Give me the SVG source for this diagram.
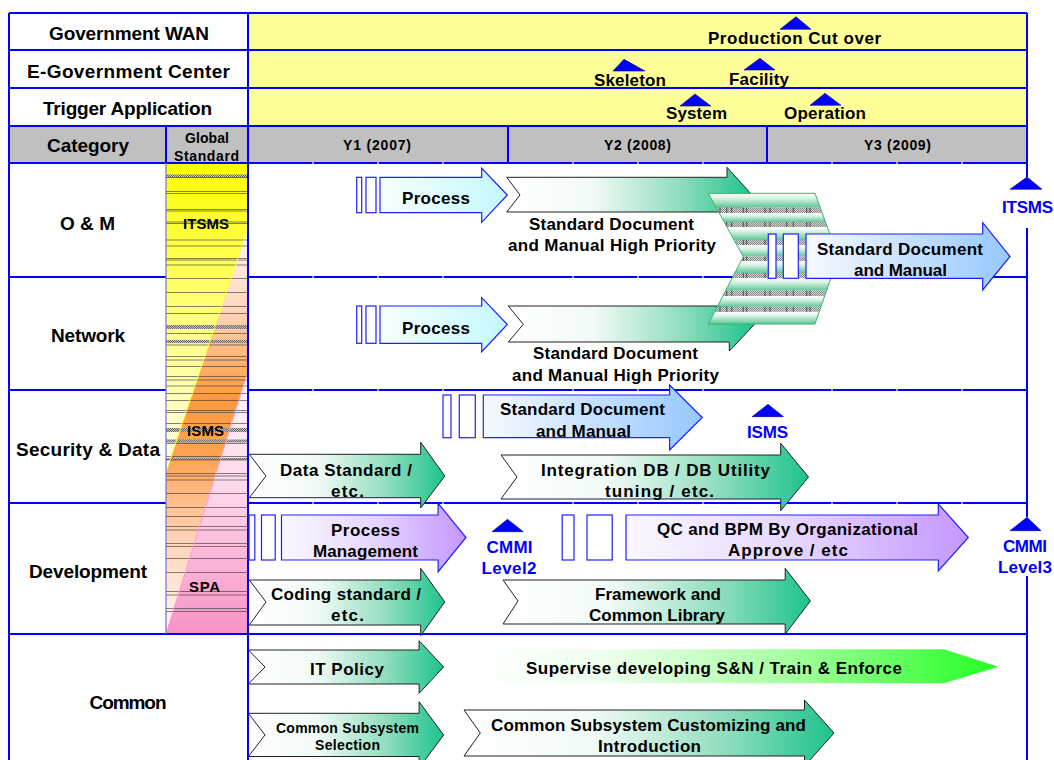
<svg xmlns="http://www.w3.org/2000/svg" width="1054" height="760" viewBox="0 0 1054 760">
<style>
.t{font-family:"Liberation Sans",Arial,Helvetica,sans-serif;font-weight:bold;fill:#000;text-anchor:middle}
.s19{font-size:19px}
.s17{font-size:17px}
.s15{font-size:15px}
.s14{font-size:14px}
.blue{fill:#0000FF}
.grid{stroke:#0000FF;stroke-width:2;fill:none}
.tick{stroke:#FFFFFF;stroke-width:1.2;fill:none}
.gr{fill:url(#gGreen);stroke:#222;stroke-width:1}
.cy{fill:url(#gCyan);stroke:#2020FF;stroke-width:1.2}
.bl{fill:url(#gBlue);stroke:#2020FF;stroke-width:1.2}
.pu{fill:url(#gPurple);stroke:#2020FF;stroke-width:1.2}
.box{fill:#FFFFFF;stroke:#2020FF;stroke-width:1.2}
.tri{fill:#0000FF;stroke:#000070;stroke-width:0.6}
.lite{fill:url(#gStripe)}
.gray{fill:url(#hatch)}
.graylite{fill:url(#hatchLite)}
</style>
<defs>
  <linearGradient id="gGreen" x1="0" y1="0" x2="1" y2="0">
    <stop offset="0" stop-color="#FFFFFF"/>
    <stop offset="0.35" stop-color="#F1FAF6"/>
    <stop offset="0.7" stop-color="#92DEBF"/>
    <stop offset="1" stop-color="#1DC38C"/>
  </linearGradient>
  <linearGradient id="gCyan" x1="0" y1="0" x2="1" y2="0">
    <stop offset="0" stop-color="#F6FFFF"/>
    <stop offset="1" stop-color="#C4F8FF"/>
  </linearGradient>
  <linearGradient id="gBlue" x1="0" y1="0" x2="1" y2="0">
    <stop offset="0" stop-color="#F6FAFF"/>
    <stop offset="1" stop-color="#96C8FF"/>
  </linearGradient>
  <linearGradient id="gPurple" x1="0" y1="0" x2="1" y2="0">
    <stop offset="0" stop-color="#FBF8FF"/>
    <stop offset="0.5" stop-color="#E6D6FF"/>
    <stop offset="1" stop-color="#C497FF"/>
  </linearGradient>
  <linearGradient id="gLime" x1="0" y1="0" x2="1" y2="0">
    <stop offset="0" stop-color="#FFFFFF"/>
    <stop offset="0.25" stop-color="#EEFFEE"/>
    <stop offset="0.6" stop-color="#A6FFA0"/>
    <stop offset="1" stop-color="#22FF22"/>
  </linearGradient>
  <linearGradient id="gStripe" x1="0" y1="0" x2="0" y2="1">
    <stop offset="0" stop-color="#FFFFFF"/>
    <stop offset="0.35" stop-color="#D8F2E4"/>
    <stop offset="1" stop-color="#5CC795"/>
  </linearGradient>
  <linearGradient id="gColYellow" gradientUnits="userSpaceOnUse" x1="0" y1="163" x2="0" y2="472">
    <stop offset="0" stop-color="#FFFF00"/>
    <stop offset="0.4" stop-color="#FFFF66"/>
    <stop offset="1" stop-color="#FFFFEC"/>
  </linearGradient>
  <linearGradient id="gColOrange" gradientUnits="userSpaceOnUse" x1="0" y1="228" x2="0" y2="634">
    <stop offset="0" stop-color="#FFF8F6"/>
    <stop offset="0.2" stop-color="#FFD6BE"/>
    <stop offset="0.42" stop-color="#FF9A3C"/>
    <stop offset="0.56" stop-color="#FFA352"/>
    <stop offset="0.76" stop-color="#FFD2B4"/>
    <stop offset="1" stop-color="#FFF8F4"/>
  </linearGradient>
  <linearGradient id="gColPink" gradientUnits="userSpaceOnUse" x1="0" y1="371" x2="0" y2="634">
    <stop offset="0" stop-color="#FFF8FC"/>
    <stop offset="0.5" stop-color="#FFD2E8"/>
    <stop offset="1" stop-color="#F792C6"/>
  </linearGradient>
  <pattern id="hatch" width="2" height="2" patternUnits="userSpaceOnUse">
    <rect width="2" height="2" fill="#C4C4C4"/>
    <rect width="1" height="1" fill="#666666"/>
    <rect x="1" y="1" width="1" height="1" fill="#666666"/>
  </pattern>
  <pattern id="hatchLite" width="2" height="2" patternUnits="userSpaceOnUse">
    <rect width="2" height="2" fill="#D4D4D4"/>
    <rect width="1" height="1" fill="#888888"/>
    <rect x="1" y="1" width="1" height="1" fill="#888888"/>
  </pattern>
  <clipPath id="clipCol"><rect x="166" y="163" width="82" height="471"/></clipPath>
  <clipPath id="clipChevron"><polygon points="708.3,193.3 815,193.3 838.3,256.7 815,324 708.3,324 743.3,256.7"/></clipPath>
  <clipPath id="clipGrayBands">
    <rect x="700" y="207.5" width="150" height="5.5"/>
    <rect x="700" y="222" width="150" height="5"/>
    <rect x="700" y="240" width="150" height="5"/>
    <rect x="700" y="256.5" width="150" height="4.5"/>
    <rect x="700" y="273" width="150" height="5"/>
    <rect x="700" y="290.5" width="150" height="5.5"/>
    <rect x="700" y="306.7" width="150" height="5"/>
  </clipPath>
</defs>

<!-- backgrounds -->
<g id="bands">
  <rect x="0" y="0" width="1054" height="760" fill="#FFFFFF"/>
  <rect x="248" y="13" width="779" height="113" fill="#FFFF99"/>
  <rect x="9" y="126" width="1018" height="37" fill="#C0C0C0"/>
</g>

<!-- global standard column -->
<g id="global-standard" clip-path="url(#clipCol)">
  <polygon points="166,163 248,163 248,228 166,472" fill="url(#gColYellow)"/>
  <polygon points="248,228 248,371 166,634 166,472" fill="url(#gColOrange)"/>
  <polygon points="248,371 248,634 166,634" fill="url(#gColPink)"/>
  <g class="gray">
    <rect x="166" y="174.5" width="82" height="3"/>
    <rect x="166" y="325" width="82" height="4"/>
    <rect x="166" y="340" width="82" height="3"/>
    <rect x="166" y="428" width="82" height="4"/>
    <rect x="166" y="439.5" width="82" height="3"/>
    <rect x="166" y="458" width="82" height="2"/>
  </g>
  <path fill="none" stroke="#333" stroke-width="0.8" stroke-opacity="0.75" d="M166,177.5H248M166,191.5H248M166,193.5H248M166,209.5H248M166,211H248M166,222H248M166,223.5H248M166,240H248M166,246H248M166,258.5H248M166,260H248M166,265H248M166,278.5H248M166,292.5H248M166,306.5H248M166,313.5H248M166,333.5H248M166,345H248M166,356.5H248M166,360H248M166,366.5H248M166,376.5H248M166,380H248M166,386H248M166,393.5H248M166,400.5H248M166,410.5H248M166,412.5H248M166,423.5H248M166,443.5H248M166,456.5H248M166,460H248M166,473.5H248M166,476H248M166,480H248M166,493.5H248M166,507.5H248M166,516.5H248M166,526.5H248M166,530H248M166,543.5H248M166,546.5H248M166,558.5H248M166,572.5H248M166,591.5H248M166,595H248M166,608.5H248M166,611.5H248"/>
  <line x1="248" y1="228" x2="166" y2="472" stroke="#FFFF33" stroke-width="1"/>
  <line x1="248" y1="371" x2="166" y2="634" stroke="#FF99CC" stroke-width="1"/>
  <text class="t s15" x="206" y="229" textLength="46" lengthAdjust="spacing">ITSMS</text>
  <text class="t s15" x="205.5" y="436" textLength="37" lengthAdjust="spacing">ISMS</text>
  <text class="t s15" x="204.5" y="592" textLength="31" lengthAdjust="spacing">SPA</text>
</g>

<!-- table grid -->
<g id="grid">
  <path class="grid" d="M9,13H1027M9,50H1027M9,88H1027M9,126H1027M9,163H1027M9,277H166M248,277H1027M9,390H166M248,390H1027M9,503H166M248,503H1027M9,634H1027"/>
  <path class="grid" d="M9,13V760M248,13V760M166,126V163M508,126V163M767,126V163M1027,13V177M1027,228V517M1027,576V760"/>
  <line x1="166" y1="163" x2="166" y2="634" stroke="#7070E0" stroke-width="1.2"/>
  <path class="tick" d="M313,162V164M378,162V164M443,162V164M573,162V164M638,162V164M703,162V164M832,162V164M897,162V164M962,162V164M313,276V278M378,276V278M443,276V278M573,276V278M638,276V278M703,276V278M832,276V278M897,276V278M962,276V278M313,389V391M378,389V391M443,389V391M573,389V391M638,389V391M703,389V391M832,389V391M897,389V391M962,389V391M313,502V504M378,502V504M443,502V504M573,502V504M638,502V504M703,502V504M832,502V504M897,502V504M962,502V504"/>
</g>

<!-- header and row labels -->
<g id="labels">
  <text class="t s19" x="129" y="40" textLength="160" lengthAdjust="spacing">Government WAN</text>
  <text class="t s19" x="128.5" y="77.5" textLength="203" lengthAdjust="spacing">E-Government Center</text>
  <text class="t s19" x="127.5" y="115" textLength="169" lengthAdjust="spacing">Trigger Application</text>
  <text class="t s19" x="88" y="152" textLength="82" lengthAdjust="spacing">Category</text>
  <text class="t s14" x="207" y="143" textLength="44" lengthAdjust="spacing">Global</text>
  <text class="t s14" x="206.5" y="161" textLength="65" lengthAdjust="spacing">Standard</text>
  <text class="t s14" x="377" y="150" textLength="68" lengthAdjust="spacing">Y1 (2007)</text>
  <text class="t s14" x="637.5" y="150" textLength="67" lengthAdjust="spacing">Y2 (2008)</text>
  <text class="t s14" x="897.5" y="150" textLength="67" lengthAdjust="spacing">Y3 (2009)</text>
  <text class="t s19" x="87.5" y="230" textLength="55" lengthAdjust="spacing">O &amp; M</text>
  <text class="t s19" x="88" y="342" textLength="74" lengthAdjust="spacing">Network</text>
  <text class="t s19" x="88" y="455.5" textLength="144" lengthAdjust="spacing">Security &amp; Data</text>
  <text class="t s19" x="88" y="577.5" textLength="118" lengthAdjust="spacing">Development</text>
  <text class="t s19" x="128" y="709" textLength="77" lengthAdjust="spacing">Common</text>
</g>

<!-- O&M and Network -->
<g id="om-network">
  <rect class="box" x="356.7" y="177.3" width="5" height="35.4"/>
  <rect class="box" x="366" y="177.3" width="10" height="35.4"/>
  <path class="cy" d="M380,177.3H481.7V168.3L507.3,195L481.7,222.3V212.7H380Z"/>
  <rect class="box" x="356.7" y="306" width="5" height="37.3"/>
  <rect class="box" x="366" y="306" width="10" height="37.3"/>
  <path class="cy" d="M380,306H481.7V297.7L507.3,324.5L481.7,351.7V343.3H380Z"/>
  <path class="gr" d="M506.7,177.3H727V167.3L752,195L727,222.7V212H506.7L520,195Z"/>
  <path class="gr" d="M508.3,306H729.3V297.7L754.5,324.3L729.3,351V342H508.3L523.3,324.3Z"/>
  <g id="striped-block">
    <g clip-path="url(#clipChevron)">
      <rect class="lite" x="700" y="193.3" width="150" height="14.2"/>
      <rect class="lite" x="700" y="213" width="150" height="9"/>
      <rect class="lite" x="700" y="227" width="150" height="13"/>
      <rect class="lite" x="700" y="245" width="150" height="11.5"/>
      <rect class="lite" x="700" y="261" width="150" height="12"/>
      <rect class="lite" x="700" y="278" width="150" height="12.5"/>
      <rect class="lite" x="700" y="296" width="150" height="10.7"/>
      <rect class="lite" x="700" y="311.7" width="150" height="12.3"/>
      <g clip-path="url(#clipGrayBands)">
        <rect class="graylite" x="700" y="193" width="150" height="131"/>
        <path fill="none" stroke="#333" stroke-width="0.8" d="M720,193V324M726.7,193V324M731.7,193V324M743.3,193V324M746.7,193V324M765,193V324M770,193V324M786.7,193V324M793.3,193V324M806.7,193V324M810,193V324"/>
      </g>
    </g>
    <polygon points="708.3,193.3 815,193.3 838.3,256.7 815,324 708.3,324 743.3,256.7" fill="none" stroke="#3CB371" stroke-width="1"/>
  </g>
  <rect class="box" x="768.3" y="234" width="7.7" height="44.3"/>
  <rect class="box" x="783.3" y="234" width="15" height="44.3"/>
  <path class="bl" d="M806,234H982.7V222.7L1010,256.5L982.7,290V278.3H806Z"/>
  <text class="t s17" x="436" y="204" textLength="68" lengthAdjust="spacing">Process</text>
  <text class="t s17" x="436" y="334" textLength="68" lengthAdjust="spacing">Process</text>
  <text class="t s17" x="611.5" y="229.5" textLength="165" lengthAdjust="spacing">Standard Document</text>
  <text class="t s17" x="612" y="251" textLength="208" lengthAdjust="spacing">and Manual High Priority</text>
  <text class="t s17" x="615.5" y="359" textLength="165" lengthAdjust="spacing">Standard Document</text>
  <text class="t s17" x="615.5" y="380.5" textLength="207" lengthAdjust="spacing">and Manual High Priority</text>
  <text class="t s17" x="900" y="255" textLength="166" lengthAdjust="spacing">Standard Document</text>
  <text class="t s17" x="900.5" y="276" textLength="93" lengthAdjust="spacing">and Manual</text>
</g>

<!-- Security & Data -->
<g id="security-data">
  <rect class="box" x="443" y="395" width="8" height="42.7"/>
  <rect class="box" x="459.3" y="395" width="16" height="42.7"/>
  <path class="bl" d="M483.3,395H669.6V385L702.2,417.5L669.6,450V437.7H483.3Z"/>
  <path class="gr" d="M249.3,454.3H420.7V442.3L444.8,476L420.7,508V497.7H249.3L266,476Z"/>
  <path class="gr" d="M501,455H780.7V443.3L808.5,477L780.7,510.7V499H501L517,477Z"/>
  <text class="t s17" x="582.5" y="415" textLength="165" lengthAdjust="spacing">Standard Document</text>
  <text class="t s17" x="583.5" y="436.7" textLength="95" lengthAdjust="spacing">and Manual</text>
  <text class="t s17" x="346" y="476" textLength="132" lengthAdjust="spacing">Data Standard /</text>
  <text class="t s17" x="347.5" y="497" textLength="33" lengthAdjust="spacing">etc.</text>
  <text class="t s17" x="655.5" y="476" textLength="229" lengthAdjust="spacing">Integration DB / DB Utility</text>
  <text class="t s17" x="659.5" y="497" textLength="109" lengthAdjust="spacing">tuning / etc.</text>
</g>

<!-- Development -->
<g id="development">
  <rect class="box" x="249" y="515" width="5.8" height="45"/>
  <rect class="box" x="261.5" y="515" width="13.7" height="45"/>
  <path class="pu" d="M281.5,515H438.1V503.3L466,537.5L438.1,571.7V560H281.5Z"/>
  <rect class="box" x="562.2" y="515" width="11.8" height="45"/>
  <rect class="box" x="587" y="515" width="25.2" height="45"/>
  <path class="pu" d="M626,515H938.3V504L968.3,537.5L938.3,571V560H626Z"/>
  <path class="gr" d="M249.3,580H420.7V568.3L444.8,602L420.7,635.7V625H249.3L266,602Z"/>
  <path class="gr" d="M503,580H785.2V568.3L810.4,601L785.2,634V624H503L518,601Z"/>
  <text class="t s17" x="365.5" y="536" textLength="69" lengthAdjust="spacing">Process</text>
  <text class="t s17" x="365.5" y="557.3" textLength="105" lengthAdjust="spacing">Management</text>
  <text class="t s17" x="787.5" y="535" textLength="261" lengthAdjust="spacing">QC and BPM By Organizational</text>
  <text class="t s17" x="788" y="556" textLength="120" lengthAdjust="spacing">Approve / etc</text>
  <text class="t s17" x="346" y="600" textLength="150" lengthAdjust="spacing">Coding standard /</text>
  <text class="t s17" x="347.5" y="621" textLength="33" lengthAdjust="spacing">etc.</text>
  <text class="t s17" x="658" y="599.5" textLength="126" lengthAdjust="spacing">Framework and</text>
  <text class="t s17" x="657" y="621" textLength="136" lengthAdjust="spacing">Common Library</text>
</g>

<!-- Common -->
<g id="common">
  <path class="gr" d="M248.4,650H419.1V640.7L443.6,667L419.1,693.3V684H248.4L265,667Z"/>
  <path d="M475.4,649.3H944L998.3,666.7L944,683.3H475.4Z" fill="url(#gLime)"/>
  <path class="gr" d="M248.4,713.3H419.1V701.7L443.6,735L419.1,768V756.5H248.4L265,735Z"/>
  <path class="gr" d="M464,710H804.5V700L834,733L804.5,766V756H464L480.3,733Z"/>
  <text class="t s17" x="347" y="675" textLength="74" lengthAdjust="spacing">IT Policy</text>
  <text class="t s17" x="714" y="674.3" textLength="376" lengthAdjust="spacing">Supervise developing S&amp;N / Train &amp; Enforce</text>
  <text class="t s14" x="347.5" y="732.7" textLength="143" lengthAdjust="spacing">Common Subsystem</text>
  <text class="t s14" x="347.5" y="750" textLength="65" lengthAdjust="spacing">Selection</text>
  <text class="t s17" x="648.5" y="731" textLength="315" lengthAdjust="spacing">Common Subsystem Customizing and</text>
  <text class="t s17" x="649.5" y="752" textLength="103" lengthAdjust="spacing">Introduction</text>
</g>

<!-- milestones -->
<g id="milestones">
  <polygon class="tri" points="796,16.7 780,29.3 811,29.3"/>
  <polygon class="tri" points="624,59.3 613,71 645,71"/>
  <polygon class="tri" points="760,58.3 744,70 775,70"/>
  <polygon class="tri" points="695,94 680,106 711,106"/>
  <polygon class="tri" points="825,93.3 810,105.3 841,105.3"/>
  <polygon class="tri" points="1027,177 1010,189.3 1042,189.3"/>
  <polygon class="tri" points="768,404.3 752,416.7 783.5,416.7"/>
  <polygon class="tri" points="507.5,519.3 492,531.7 523.3,531.7"/>
  <polygon class="tri" points="1027,517.3 1010,530.7 1041,530.7"/>
  <text class="t s17" x="794.5" y="44.3" textLength="173" lengthAdjust="spacing">Production Cut over</text>
  <text class="t s17" x="630" y="86" textLength="72" lengthAdjust="spacing">Skeleton</text>
  <text class="t s17" x="759" y="85" textLength="60" lengthAdjust="spacing">Facility</text>
  <text class="t s17" x="696.5" y="119" textLength="61" lengthAdjust="spacing">System</text>
  <text class="t s17" x="825" y="119" textLength="82" lengthAdjust="spacing">Operation</text>
  <text class="t s17 blue" x="1027.5" y="213" textLength="51" lengthAdjust="spacing">ITSMS</text>
  <text class="t s17 blue" x="767.5" y="437.7" textLength="41" lengthAdjust="spacing">ISMS</text>
  <text class="t s17 blue" x="509.5" y="553.3" textLength="46" lengthAdjust="spacing">CMMI</text>
  <text class="t s17 blue" x="509" y="574" textLength="55" lengthAdjust="spacing">Level2</text>
  <text class="t s17 blue" x="1025" y="552.3" textLength="44" lengthAdjust="spacing">CMMI</text>
  <text class="t s17 blue" x="1025" y="573.3" textLength="54" lengthAdjust="spacing">Level3</text>
</g>
</svg>
